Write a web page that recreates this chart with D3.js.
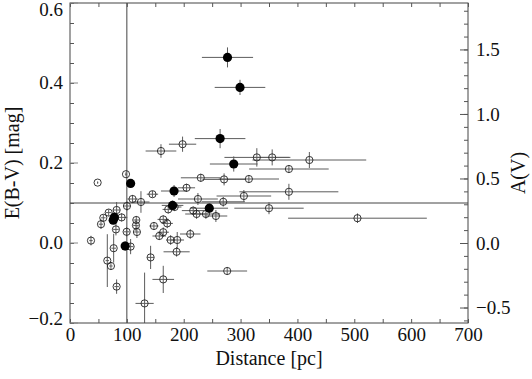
<!DOCTYPE html>
<html><head><meta charset="utf-8">
<script src="https://cdn.jsdelivr.net/npm/d3@7"></script>
<style>
html,body{margin:0;padding:0;background:#fff;}
</style></head>
<body>
<svg id="chart" width="532" height="379"></svg>
<script>
// ---- data ----
// Distance [pc]
const distance = [
  277, 299, 264, 288, 183, 106.6, 180.4, 245, 78, 76, 97,
  98.5, 48.6, 145, 110, 124.8, 100.2, 68, 58.6, 54.5, 82, 90.8, 80.8, 99.6, 116.6, 116, 117.7,
  36.9, 106.6, 76.8, 65.6, 72, 82, 141.8, 164, 131.2, 147.6, 164, 171, 157, 164, 177, 188.6,
  187.5, 160, 198, 328.6, 355.6, 230, 271, 314.6, 205, 225, 269.5, 305.8, 350, 421, 385, 385,
  505.6, 276.5, 172.8, 184, 216.7, 222.6, 239, 256.6, 211.5
];
// E(B-V) [mag]
const ebv = [
  0.464, 0.389, 0.261, 0.1975, 0.13, 0.149, 0.094, 0.087, 0.064, 0.057, -0.0075,
  0.172, 0.151, 0.122, 0.11, 0.1025, 0.0925, 0.076, 0.063, 0.047, 0.0825, 0.064, 0.034, 0.028, 0.0575, 0.044, 0.0275,
  0.006, -0.009, -0.013, -0.044, -0.0575, -0.109, -0.036, -0.091, -0.151, 0.0425, 0.059, 0.049, 0.0175, 0.027, 0.0075, 0.0075,
  -0.022, 0.23, 0.247, 0.214, 0.214, 0.163, 0.159, 0.16, 0.138, 0.11, 0.103, 0.1175, 0.087, 0.2075, 0.185, 0.128,
  0.062, -0.07, 0.084, 0.09, 0.081, 0.0725, 0.0725, 0.0675, 0.0225
];
// distance error (half width, pc)
const distErr = [
  45, 44.5, 44.5, 42, 23, 5, 19, 33, 4, 4, 4,
  2, 1, 10, 9, 15, 6, 5, 4, 4, 6, 10, 5, 5, 5, 5, 5,
  3, 5, 4, 3, 3, 4, 6, 19, 16, 8, 10, 10, 12, 10, 8, 12,
  23, 27, 24, 57, 32, 35, 38, 53, 15, 35, 38, 48, 61, 100, 70, 87,
  122, 35, 10, 12, 20, 20, 25, 20, 18
];
// E(B-V) error (half width, mag)
const ebvErr = [
  0.025, 0.019, 0.024, 0.019, 0.015, 0.01, 0.012, 0.012, 0.012, 0.01, 0.012,
  0.005, 0.003, 0.008, 0.01, 0.027, 0.012, 0.008, 0.008, 0.012, 0.02, 0.01, 0.015, 0.012, 0.01, 0.015, 0.015,
  0.012, 0.019, 0.036, 0.066, 0.01, 0.018, 0.029, 0.034, 0.077, 0.01, 0.01, 0.012, 0.01, 0.012, 0.012, 0.02,
  0.012, 0.017, 0.019, 0.023, 0.02, 0.01, 0.015, 0.01, 0.01, 0.015, 0.012, 0.015, 0.015, 0.02, 0.01, 0.02,
  0.012, 0.01, 0.01, 0.01, 0.01, 0.012, 0.012, 0.015, 0.012
];
// 1 = filled symbol, 0 = open symbol
const filledFlag = [
  1,1,1,1,1,1,1,1,1,1,1,
  0,0,0,0,0,0,0,0,0,0,0,0,0,0,0,0,
  0,0,0,0,0,0,0,0,0,0,0,0,0,0,0,0,
  0,0,0,0,0,0,0,0,0,0,0,0,0,0,0,0,
  0,0,0,0,0,0,0,0,0
];
const xTicks = [0, 100, 200, 300, 400, 500, 600, 700];
const yTicks = [-0.2, 0.0, 0.2, 0.4, 0.6];
const avTicks = [-0.5, 0.0, 0.5, 1.0, 1.5];
const RV = 3.1;
const refDistance = 100;
const refEbv = 0.1;

// ---- layout ----
const FONT = "'Liberation Serif', 'DejaVu Serif', 'Times New Roman', Times, serif";
const L = 70, R = 468, T = 3, B = 323;
const svg = d3.select("#chart").attr("font-family", FONT);
const x = d3.scaleLinear().domain([0, 700]).range([L, R]);
const y = d3.scaleLinear().domain([-0.2, 0.6]).range([B, T]);
const yAv = d3.scaleLinear().domain([-0.2 * RV, 0.6 * RV]).range([B, T]);

const axisColor = "#444";
const points = distance.map((d, i) => ({d, e: ebv[i], de: distErr[i], ee: ebvErr[i], f: filledFlag[i]}));

svg.append("defs").append("clipPath").attr("id", "pc")
  .append("rect").attr("x", L).attr("y", T).attr("width", R - L).attr("height", B - T);

// reference lines
svg.append("line").attr("x1", x(refDistance)).attr("x2", x(refDistance)).attr("y1", T).attr("y2", B)
  .attr("stroke", axisColor).attr("stroke-width", 1);
svg.append("line").attr("x1", L).attr("x2", R).attr("y1", y(refEbv)).attr("y2", y(refEbv))
  .attr("stroke", axisColor).attr("stroke-width", 1);

// error bars
const g = svg.append("g").attr("clip-path", "url(#pc)");
g.selectAll("line.hx").data(points).join("line").attr("class", "hx")
  .attr("x1", p => x(p.d - p.de)).attr("x2", p => x(p.d + p.de))
  .attr("y1", p => y(p.e)).attr("y2", p => y(p.e))
  .attr("stroke", "#5c5c5c").attr("stroke-width", 1);
g.selectAll("line.vy").data(points).join("line").attr("class", "vy")
  .attr("x1", p => x(p.d)).attr("x2", p => x(p.d))
  .attr("y1", p => y(p.e - p.ee)).attr("y2", p => y(p.e + p.ee))
  .attr("stroke", "#5c5c5c").attr("stroke-width", 1);

// symbols
g.selectAll("circle.open").data(points.filter(p => !p.f)).join("circle").attr("class", "open")
  .attr("cx", p => x(p.d)).attr("cy", p => y(p.e)).attr("r", 3.6)
  .attr("fill", "none").attr("stroke", "#222").attr("stroke-width", 0.9);
g.selectAll("circle.fill").data(points.filter(p => p.f)).join("circle").attr("class", "fill")
  .attr("cx", p => x(p.d)).attr("cy", p => y(p.e)).attr("r", 4.6)
  .attr("fill", "#000").attr("stroke", "none");

// frame
svg.append("rect").attr("x", L).attr("y", T).attr("width", R - L).attr("height", B - T)
  .attr("fill", "none").attr("stroke", axisColor).attr("stroke-width", 1);

function styleAxis(sel) {
  sel.attr("font-family", FONT);
  sel.select(".domain").remove();
  sel.selectAll(".tick line").attr("stroke", "#555");
  sel.selectAll(".tick text").attr("font-family", FONT).attr("font-size", 19).attr("fill", "#111");
}

// bottom axis
const xMinor = d3.range(0, 701, 50);
svg.append("g").attr("transform", `translate(0,${B})`)
  .call(d3.axisBottom(x).tickValues(xMinor).tickSize(-4).tickFormat(""))
  .call(styleAxis);
svg.append("g").attr("transform", `translate(0,${B})`)
  .call(d3.axisBottom(x).tickValues(xTicks).tickSize(0).tickPadding(5).tickFormat(d3.format("d")))
  .call(styleAxis)
  .selectAll("text").attr("dy", "0.71em");
// top axis
svg.append("g").attr("transform", `translate(0,${T})`)
  .call(d3.axisTop(x).tickValues(xMinor).tickSize(-4).tickFormat(""))
  .call(styleAxis);

// left axis
const yMinor = d3.range(-0.2, 0.601, 0.05).map(v => +v.toFixed(2));
svg.append("g").attr("transform", `translate(${L},0)`)
  .call(d3.axisLeft(y).tickValues(yMinor).tickSize(-4).tickFormat(""))
  .call(styleAxis);
const yl = svg.append("g").attr("transform", `translate(${L},0)`)
  .call(d3.axisLeft(y).tickValues(yTicks).tickSize(-8).tickPadding(7).tickFormat(d3.format(".1f")))
  .call(styleAxis);
yl.selectAll(".tick line").attr("stroke", "#888");
const clampY = v => Math.min(Math.max(y(v), 10), 319);
yl.selectAll(".tick").attr("transform", v => `translate(0,${clampY(v)})`);
yl.selectAll(".tick line").attr("transform", v => `translate(0,${y(v) - clampY(v)})`);

// right axis (A(V) = R_V * E(B-V))
const avMinor = d3.range(-0.6, 1.86, 0.1).map(v => +v.toFixed(1));
svg.append("g").attr("transform", `translate(${R},0)`)
  .call(d3.axisRight(yAv).tickValues(avMinor).tickSize(-4).tickFormat(""))
  .call(styleAxis);
svg.append("g").attr("transform", `translate(${R},0)`)
  .call(d3.axisRight(yAv).tickValues(avTicks).tickSize(-8).tickPadding(8).tickFormat(d3.format(".1f")))
  .call(styleAxis);

// titles
svg.append("text").attr("x", (L + R) / 2).attr("y", 365).attr("text-anchor", "middle")
  .attr("font-family", FONT).attr("font-size", 20).attr("fill", "#111").text("Distance [pc]");
svg.append("text").attr("transform", `translate(18.5,${(T + B) / 2}) rotate(-90)`).attr("text-anchor", "middle")
  .attr("font-family", FONT).attr("font-size", 20).attr("fill", "#111").text("E(B-V) [mag]");
svg.append("text").attr("transform", `translate(525,173) rotate(-90)`).attr("text-anchor", "middle")
  .attr("font-family", FONT).attr("font-size", 20).attr("fill", "#111").text("A(V)");
</script>
</body></html>
